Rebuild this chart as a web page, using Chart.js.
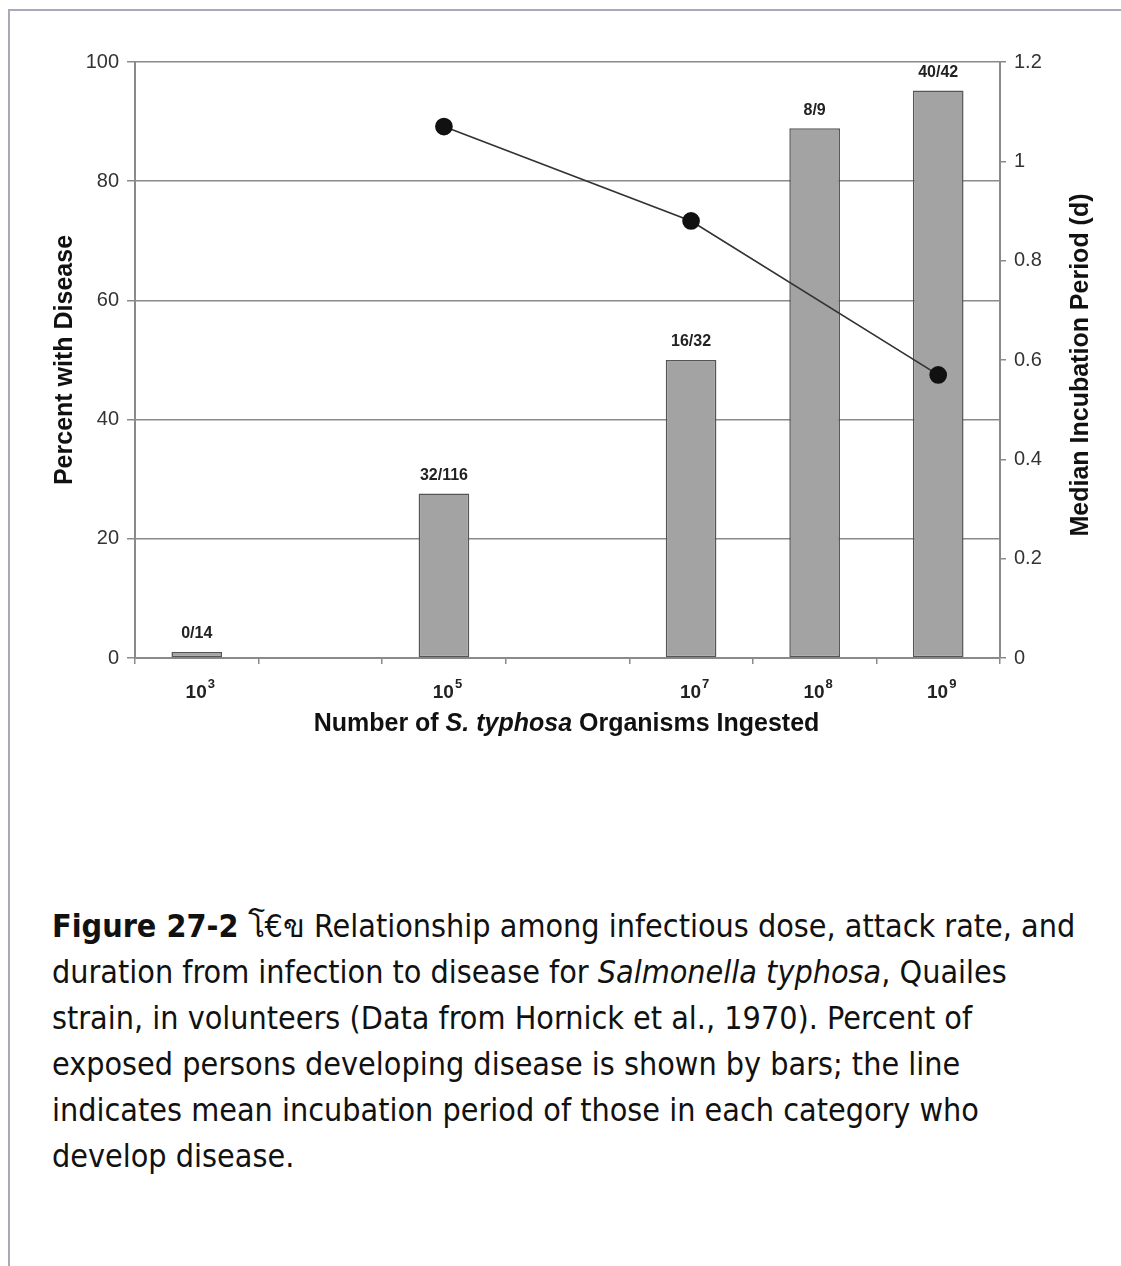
<!DOCTYPE html>
<html>
<head>
<meta charset="utf-8">
<script src="https://cdn.jsdelivr.net/npm/chart.js@4"></script>
<style>
  html, body { margin: 0; padding: 0; background: #fff; }
  body { width: 1121px; height: 1266px; position: relative; overflow: hidden; }
  .frame { position: absolute; left: 8px; top: 9px; right: -4px; bottom: -4px;
           border-left: 2px solid #a9a9b9; border-top: 2px solid #a9a9b9; }
  .chartbox { position: absolute; left: 0; top: 0; width: 1121px; height: 760px; }
  .caption { position: absolute; left: 52px; top: 903px; width: 1065px;
             font-family: "DejaVu Sans Condensed", "DejaVu Sans", sans-serif;
             font-size: 32px; line-height: 46px; color: #111; white-space: nowrap; }
  .caption b { font-weight: bold; }
</style>
</head>
<body>
<div class="frame"></div>
<div class="chartbox"><canvas id="myChart"></canvas></div>
<div class="caption">
<b>Figure 27-2</b> โ€ข Relationship among infectious dose, attack rate, and<br>
duration from infection to disease for <i>Salmonella typhosa</i>, Quailes<br>
strain, in volunteers (Data from Hornick et al., 1970). Percent of<br>
exposed persons developing disease is shown by bars; the line<br>
indicates mean incubation period of those in each category who<br>
develop disease.
</div>
<script>
// 가로축 항목 (10^4, 10^6 은 빈칸)
const doses = ['10^3', '10^4', '10^5', '10^6', '10^7', '10^8', '10^9'];
// 눈금 글자 지수 (빈칸은 표시 안함)
const doseExp = ['3', '', '5', '', '7', '8', '9'];
// 발병률 % (막대)
const percentIll = [1, null, 27.6, null, 50, 88.9, 95.2];
// 막대 위 표시 (발병/노출)
const ratioText = ['0/14', '', '32/116', '', '16/32', '8/9', '40/42'];
// 잠복기 중앙값 (일)
const incubation = [null, null, 1.07, null, 0.88, null, 0.57];

const leftTicks = [0, 20, 40, 60, 80, 100];
const rightTicks = [0, 0.2, 0.4, 0.6, 0.8, 1, 1.2];

const FAM = '"Liberation Sans", Arial, sans-serif';
const axisFont = { family: FAM, size: 20 };

// 막대 위 글자 + 눈금 글자 + 축 제목
const labelPlugin = {
  id: 'labels',
  afterDatasetsDraw(chart) {
    const c = chart.ctx;
    const a = chart.chartArea;
    const meta = chart.getDatasetMeta(1);
    c.save();
    c.fillStyle = '#222';
    c.font = 'bold 16px ' + FAM;
    c.textAlign = 'center';
    c.textBaseline = 'bottom';
    meta.data.forEach((bar, i) => {
      if (!ratioText[i]) return;
      c.fillText(ratioText[i], bar.x, bar.y - 10);
    });

    // 가로축 눈금 10^n
    const xs = chart.scales.x;
    c.textAlign = 'left';
    c.textBaseline = 'alphabetic';
    doseExp.forEach((e, i) => {
      if (!e) return;
      const cx = xs.getPixelForTick(i);
      c.font = 'bold 19px ' + FAM;
      const w1 = c.measureText('10').width;
      c.font = 'bold 13px ' + FAM;
      const w2 = c.measureText(e).width;
      let x = cx - (w1 + w2) / 2 + 3;
      c.font = 'bold 19px ' + FAM;
      c.fillText('10', x, a.bottom + 40);
      c.font = 'bold 13px ' + FAM;
      c.fillText(e, x + w1 + 1, a.bottom + 30);
    });

    c.font = 'bold 25px ' + FAM;
    c.fillStyle = '#111';
    c.textAlign = 'center';
    c.textBaseline = 'middle';
    // 왼쪽 제목
    c.save();
    c.translate(a.left - 70, (a.top + a.bottom) / 2);
    c.rotate(-Math.PI / 2);
    c.fillText('Percent with Disease', 0, 0);
    c.restore();
    // 오른쪽 제목 (아래에서 위로)
    c.save();
    c.translate(a.right + 81, (a.top + a.bottom) / 2 + 5);
    c.rotate(-Math.PI / 2);
    c.fillText('Median Incubation Period (d)', 0, 0);
    c.restore();
    // 가로축 제목 (기울임 섞임)
    const parts = [
      ['bold 25px ' + FAM, 'Number of '],
      ['italic bold 25px ' + FAM, 'S. typhosa'],
      ['bold 25px ' + FAM, ' Organisms Ingested']
    ];
    let total = 0;
    parts.forEach(p => { c.font = p[0]; total += c.measureText(p[1]).width; });
    let x = (a.left + a.right) / 2 - total / 2 - 1;
    c.textAlign = 'left';
    parts.forEach(p => {
      c.font = p[0];
      c.fillText(p[1], x, a.bottom + 66);
      x += c.measureText(p[1]).width;
    });
    c.restore();
  }
};

const ctx = document.getElementById('myChart');

new Chart(ctx, {
  type: 'bar',
  data: {
    labels: doses,
    datasets: [
      {
        type: 'line',
        label: 'Median Incubation Period',
        data: incubation,
        yAxisID: 'y2',
        borderColor: '#333',
        borderWidth: 1.7,
        backgroundColor: '#111',
        pointBackgroundColor: '#111',
        pointBorderColor: '#111',
        pointRadius: 8,
        spanGaps: true,
        order: 0
      },
      {
        label: 'Percent with Disease',
        data: percentIll,
        yAxisID: 'y',
        backgroundColor: '#a3a3a3',
        borderColor: '#555',
        borderWidth: 1.5,
        borderSkipped: false,
        categoryPercentage: 0.41,
        barPercentage: 1,
        order: 1
      }
    ]
  },
  options: {
    responsive: true,
    maintainAspectRatio: false,
    animation: false,
    layout: { padding: { top: 62, left: 0, right: 0, bottom: 0 } },
    plugins: {
      legend: { display: false },
      tooltip: { enabled: false }
    },
    scales: {
      x: {
        offset: true,
        afterFit: (s) => { s.height = 102; },
        grid: { offset: true, drawOnChartArea: false, color: '#8a8a8a', lineWidth: 1.5, tickLength: 6 },
        border: { color: '#8a8a8a', width: 2 },
        ticks: { callback: () => '', maxRotation: 0, autoSkip: false }
      },
      y: {
        position: 'left',
        min: 0, max: 100,
        afterFit: (s) => { s.width = 135; },
        afterBuildTicks: (s) => { s.ticks = leftTicks.map(v => ({ value: v })); },
        grid: { color: '#8a8a8a', lineWidth: 1.5, tickLength: 8 },
        border: { color: '#8a8a8a', width: 2 },
        ticks: { color: '#333', font: axisFont, padding: 8 }
      },
      y2: {
        position: 'right',
        min: 0, max: 1.2,
        afterFit: (s) => { s.width = 121; },
        afterBuildTicks: (s) => { s.ticks = rightTicks.map(v => ({ value: v })); },
        grid: { drawOnChartArea: false, color: '#8a8a8a', lineWidth: 1.5, tickLength: 6 },
        border: { color: '#8a8a8a', width: 2 },
        ticks: { color: '#333', font: axisFont, padding: 8, callback: (v) => String(+v.toFixed(1)) }
      }
    }
  },
  plugins: [labelPlugin]
});
</script>
</body>
</html>
